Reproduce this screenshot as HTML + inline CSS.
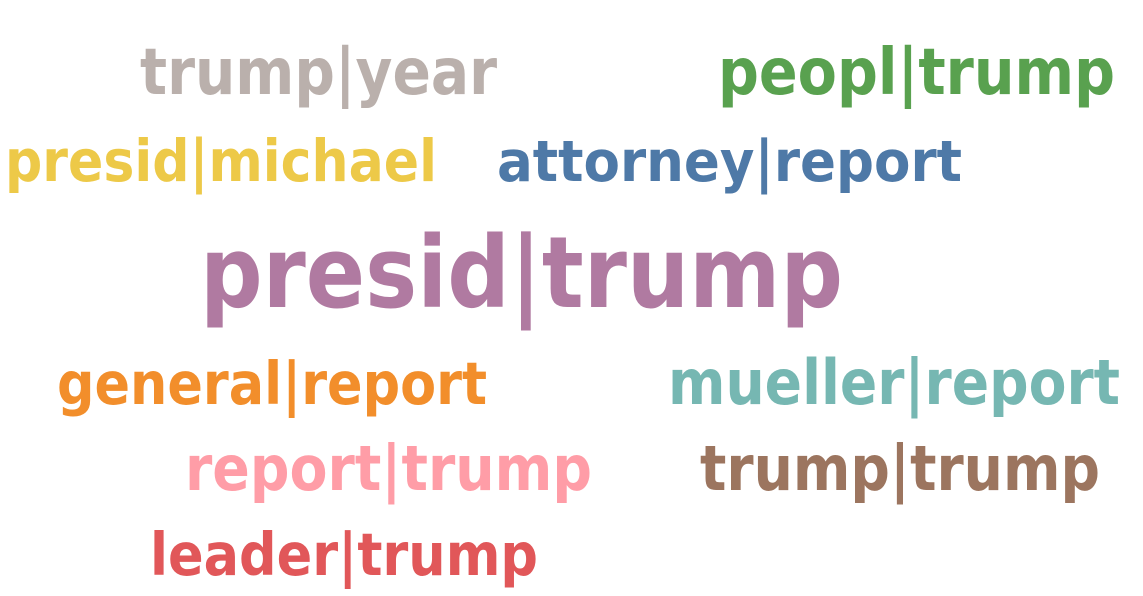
<!DOCTYPE html>
<html>
<head>
<meta charset="utf-8">
<style>
  html, body { margin: 0; padding: 0; background: #ffffff; }
  svg { display: block; }
  text { font-family: "DejaVu Sans", "Liberation Sans", sans-serif; font-weight: bold; }
</style>
</head>
<body>
<svg id="cloud" width="1143" height="596" viewBox="0 0 1143 596" xmlns="http://www.w3.org/2000/svg">
</svg>
<script>
const words = ["trump|year","peopl|trump","presid|michael","attorney|report","presid|trump","general|report","mueller|report","report|trump","trump|trump","leader|trump"];
const weights = [57, 57.5, 52, 51, 88, 52.7, 55.4, 56, 55.8, 52.8];
const colors = ["#bab0ac","#59a14f","#edc948","#4e79a7","#b07aa1","#f28e2b","#76b7b2","#ff9da7","#9c755f","#e15759"];
// layout (placement of each word in the cloud)
const layoutX = [140, 718, 5, 497, 200, 57, 668, 185, 700, 150];
const layoutY = [94, 94, 181, 181, 307, 404, 404, 490, 490, 575];
const layoutW = [357, 397, 432, 465, 643, 430, 452, 407, 400, 388];
const heightScale = 1.12;

const svg = document.getElementById('cloud');
const NS = "http://www.w3.org/2000/svg";
words.forEach((w, i) => {
  const t = document.createElementNS(NS, 'text');
  
  
  t.setAttribute('x', layoutX[i]);
  t.setAttribute('y', layoutY[i]);
  t.setAttribute('font-size', weights[i] * heightScale);
  t.setAttribute('fill', colors[i]);
  t.setAttribute('textLength', layoutW[i]);
  t.setAttribute('lengthAdjust', 'spacingAndGlyphs');
  t.textContent = w;
  svg.appendChild(t);
});
</script>
</body>
</html>
